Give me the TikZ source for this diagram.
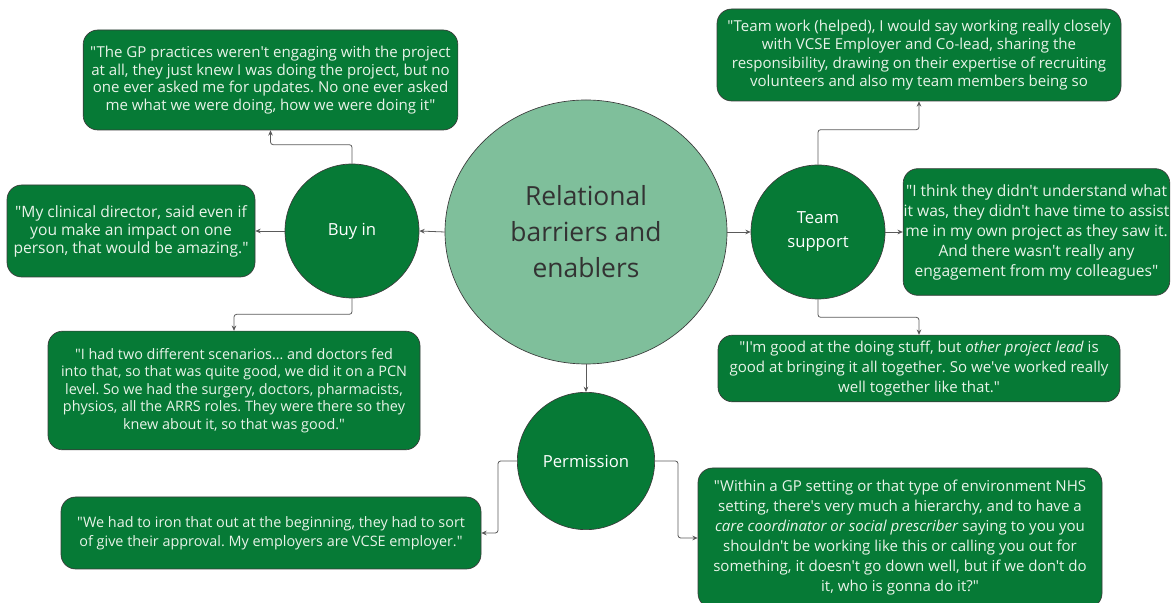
\documentclass[tikz,border=0pt]{standalone}
\usepackage{fontspec}
\setmainfont{Open Sans}[Ligatures=TeXOff]
\frenchspacing
\usetikzlibrary{shapes.geometric,arrows.meta}
\definecolor{hubfill}{HTML}{7FBF9B}
\definecolor{themefill}{HTML}{067A36}
\definecolor{quoteink}{HTML}{E8F3E8}
\definecolor{hubink}{HTML}{333333}
\definecolor{rim}{HTML}{3A3A3A}
\definecolor{wire}{HTML}{5A5A5A}

\begin{document}
\begin{tikzpicture}[x=0.75pt,y=0.75pt,
  hub/.style={ellipse,draw=rim,line width=0.5pt,fill=hubfill,text=hubink,
    minimum width=211.5pt,minimum height=198pt,align=center,
    font=\fontsize{19.8}{27}\selectfont},
  theme/.style={circle,draw=rim,line width=0.5pt,fill=themefill,text=white,
    minimum size=100.5pt,inner sep=0pt,align=center,
    font=\fontsize{12.5}{18}\selectfont},
  quote/.style={rectangle,rounded corners=11pt,draw=rim,line width=0.5pt,
    fill=themefill,text=quoteink,inner sep=0pt,align=center,
    font=\fontsize{11.3}{13.3}\selectfont},
  loose/.style={font=\fontsize{11.3}{15}\selectfont},
  link/.style={draw=wire,line width=0.6pt,rounded corners=2pt,
    -{Stealth[length=4pt,width=3.5pt]}}]
  \useasboundingbox (0,0) rectangle (1171,603);

  % centre and the three themes
  \node[hub] (hub) at (586,371) {Relational\\barriers and\\enablers};
  \node[theme] (buyin) at (352,372) {Buy in};
  \node[theme] (team) at (818,371) {Team\\support};
  \node[theme,minimum size=103pt] (perm) at (586,142) {Permission};

  % quotes for buy in
  \node[quote,minimum width=281pt,minimum height=75pt] (gp) at (270.5,523)
    {"The GP practices weren't engaging with the project\\at all, they just knew I was doing the project, but no\\one ever asked me for updates. No one ever asked\\me what we were doing, how we were doing it"};
  \node[quote,font=\fontsize{11.7}{13.5}\selectfont,minimum width=186pt,minimum height=69pt] (director) at (131,372)
    {"My clinical director, said even if\\you make an impact on one\\person, that would be amazing."};
  \node[quote,font=\fontsize{10.8}{13.2}\selectfont,minimum width=279pt,minimum height=89pt] (scenario) at (234,212.5)
    {"I had two different scenarios… and doctors fed\\into that, so that was quite good, we did it on a PCN\\level. So we had the surgery, doctors, pharmacists,\\physios, all the ARRS roles. They were there so they\\knew about it, so that was good."};

  % quotes for team support
  \node[quote,font=\fontsize{11.3}{13.75}\selectfont,minimum width=303pt,minimum height=69pt] (teamwork) at (919,548)
    {"Team work (helped), I would say working really closely\\with VCSE Employer and Co-lead, sharing the\\responsibility, drawing on their expertise of recruiting\\volunteers and also my team members being so};
  \node[quote,font=\fontsize{11.7}{15}\selectfont,minimum width=200pt,minimum height=95pt] (colleagues) at (1036.5,371)
    {"I think they didn't understand what\\it was, they didn't have time to assist\\me in my own project as they saw it.\\And there wasn't really any\\engagement from my colleagues"};
  \node[quote,loose,minimum width=301.5pt,minimum height=50pt] (colead) at (919,234.5)
    {"I'm good at the doing stuff, but \textit{other project lead} is\\good at bringing it all together. So we've worked really\\well together like that."};

  % quotes for permission
  \node[quote,font=\fontsize{10.8}{14.25}\selectfont,minimum width=315pt,minimum height=54pt] (approval) at (271,70)
    {"We had to iron that out at the beginning, they had to sort\\of give their approval. My employers are VCSE employer."};
  \node[quote,loose,minimum width=303pt,minimum height=105pt] (hierarchy) at (900,65)
    {"Within a GP setting or that type of environment NHS\\setting, there's very much a hierarchy, and to have a\\\textit{care coordinator or social prescriber} saying to you you\\shouldn't be working like this or calling you out for\\something, it doesn't go down well, but if we don't do\\it, who is gonna do it?"};

  % connectors
  \draw[link] (hub.west) -- (buyin.east);
  \draw[link] (hub.east) -- (team.west);
  \draw[link] (hub.south) -- (perm.north);
  \draw[link] (buyin.west) -- (director.east);
  \draw[link] (buyin.north) -- ++(0,19) -| (gp.south);
  \draw[link] (buyin.south) -- ++(0,-16) -| (scenario.north);
  \draw[link] (team.east) -- (colleagues.west);
  \draw[link] (team.north) -- ++(0,35) -| (teamwork.south);
  \draw[link] (team.south) -- ++(0,-18) -| (colead.north);
  \draw[link] (perm.west) -- ++(-19,0) |- (approval.east);
  \draw[link] (perm.east) -- ++(23,0) |- (hierarchy.west);
\end{tikzpicture}
\end{document}
